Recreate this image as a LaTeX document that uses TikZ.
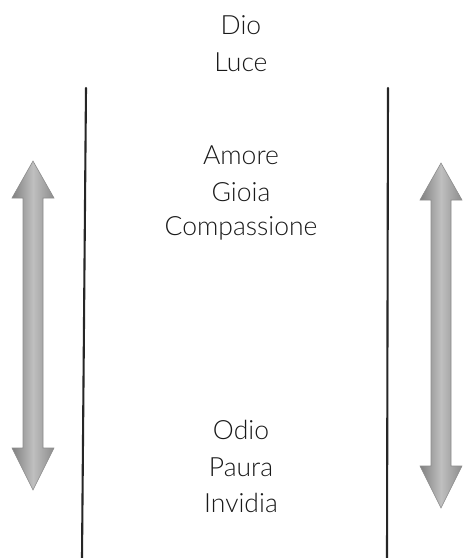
\documentclass[tikz,border=0pt]{standalone}
\usepackage{fontspec}
\setmainfont{Lato Light}
\usepackage{tikz}

\tikzset{
  word/.style={anchor=center, inner sep=0.75pt, font=\fontsize{26.5}{30}\selectfont, text=black!90},
  wall/.style={line width=2.1pt, black!85, line cap=round},
  pole/.style={draw=black!45, line width=0.6pt, shading=axis, left color=black!50, right color=black!45, middle color=black!25, shading angle=90}
}

% double arrow: x, top tip, bottom tip
\newcommand{\twoway}[3]{%
  \path[pole] (#1,#2) -- (#1+21,#2+37) -- (#1+10,#2+37) -- (#1+10,#3-42) -- (#1+21,#3-42)
    -- (#1,#3) -- (#1-21,#3-42) -- (#1-10,#3-42) -- (#1-10,#2+37) -- (#1-21,#2+37) -- cycle;}

\begin{document}
\begin{tikzpicture}[x=1pt,y=1pt,yscale=-1]
\useasboundingbox (0,0) rectangle (463,558);

%Walls
\coordinate (lt) at (86,88);
\coordinate (lb) at (82,558);
\coordinate (rt) at (388,88);
\coordinate (rb) at (387,558);
\draw [wall] (lt) -- (lb);
\draw [wall] (rt) -- (rb);

%Arrows
\twoway{33}{161}{490}
\twoway{441}{163}{508}

% Text Node
\node [word] (dio) at (241,25) {Dio};
% Text Node
\node [word] (luce) at (241,62) {Luce};
% Text Node
\node [word] (amore) at (241,155) {Amore};
% Text Node
\node [word] (gioia) at (241,192) {Gioia};
% Text Node
\node [word] (compassione) at (241,228) {Compassione};
% Text Node
\node [word] (odio) at (241,430) {Odio};
% Text Node
\node [word] (paura) at (241,467) {Paura};
% Text Node
\node [word] (invidia) at (241,503) {Invidia};

\end{tikzpicture}
\end{document}
